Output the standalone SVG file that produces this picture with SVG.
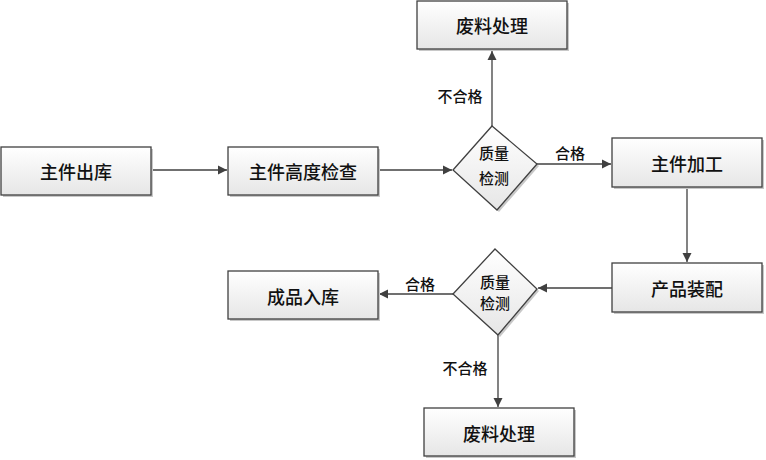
<svg xmlns="http://www.w3.org/2000/svg" width="766" height="460" viewBox="0 0 766 460">
<defs>
<linearGradient id="g" x1="0" y1="0" x2="0" y2="1">
<stop offset="0" stop-color="#ffffff"/>
<stop offset="1" stop-color="#e6e6e6"/>
</linearGradient>
<marker id="a" markerWidth="10" markerHeight="10" refX="9" refY="5" orient="auto" markerUnits="userSpaceOnUse">
<path d="M0,0.5 L9,5 L0,9.5 Z" fill="#404040"/>
</marker>
<style>
.box{fill:url(#g);stroke:#404040;stroke-width:1.3}
.sh{fill:#c8c8c8}
.t{font-family:"Noto Sans CJK SC","Noto Sans CJK JP",sans-serif;font-size:18px;font-weight:500;fill:#111;text-anchor:middle;dominant-baseline:central}
.s{font-family:"Noto Sans CJK SC","Noto Sans CJK JP",sans-serif;font-size:15px;font-weight:500;fill:#111;text-anchor:middle;dominant-baseline:central}
.c{fill:none;stroke:#404040;stroke-width:1.3;marker-end:url(#a)}
</style>
</defs>
<rect width="766" height="460" fill="#ffffff"/>
<g id="connectors">
<path class="c" d="M152,170 L227,170"/>
<path class="c" d="M379,170 L452,170"/>
<path class="c" d="M492,126 L492,51"/>
<path class="c" d="M537,164 L611,164"/>
<path class="c" d="M687,188 L687,262"/>
<path class="c" d="M612,288 L538,288"/>
<path class="c" d="M453,294 L379,294"/>
<path class="c" d="M498,335 L498,407"/>
<text class="s" x="460" y="95">不合格</text>
<text class="s" x="570" y="152">合格</text>
<text class="s" x="420" y="283">合格</text>
<text class="s" x="465" y="367">不合格</text>
</g>
<g id="n1"><rect class="sh" x="3" y="149" width="150" height="48"/><rect class="box" x="1" y="147" width="150" height="48"/><text class="t" x="76" y="171">主件出库</text></g>
<g id="n2"><rect class="sh" x="230" y="149" width="150" height="48"/><rect class="box" x="228" y="147" width="150" height="48"/><text class="t" x="303" y="171">主件高度检查</text></g>
<g id="n3"><rect class="sh" x="419" y="3" width="150" height="48"/><rect class="box" x="417" y="1" width="150" height="48"/><text class="t" x="492" y="25">废料处理</text></g>
<g id="d1"><polygon class="sh" points="494,128 539,166 499,212 455,172"/><polygon class="box" points="492,126 537,164 497,210 453,170"/><text class="s" x="494" y="152">质量</text><text class="s" x="494" y="177">检测</text></g>
<g id="n4"><rect class="sh" x="614" y="140" width="150" height="49"/><rect class="box" x="612" y="138" width="150" height="49"/><text class="t" x="687" y="163">主件加工</text></g>
<g id="n5"><rect class="sh" x="614" y="265" width="150" height="49"/><rect class="box" x="612" y="263" width="150" height="49"/><text class="t" x="687" y="288">产品装配</text></g>
<g id="d2"><polygon class="sh" points="497,251 539,291 500,337 455,296"/><polygon class="box" points="495,249 537,289 498,335 453,294"/><text class="s" x="495" y="281">质量</text><text class="s" x="495" y="302">检测</text></g>
<g id="n6"><rect class="sh" x="230" y="273" width="150" height="48"/><rect class="box" x="228" y="271" width="150" height="48"/><text class="t" x="303" y="296">成品入库</text></g>
<g id="n7"><rect class="sh" x="426" y="410" width="150" height="48"/><rect class="box" x="424" y="408" width="150" height="48"/><text class="t" x="499" y="433">废料处理</text></g>
</svg>
